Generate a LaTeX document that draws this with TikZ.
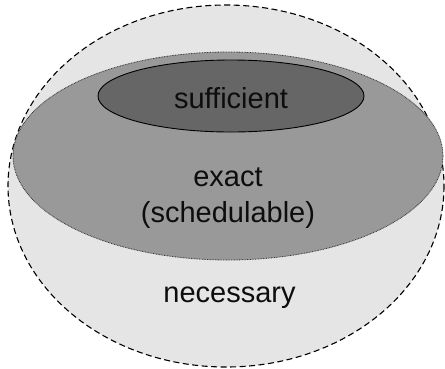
\documentclass[tikz,border=0pt]{standalone}
\usepackage{fontspec}
\setmainfont{Liberation Sans}
\tikzset{
  setlabel/.style={font=\fontsize{29}{36}\selectfont, align=center, text=black!95, anchor=base, inner sep=0pt},
  necessaryset/.style={draw=black, fill=black!10, line width=1.1pt, dash pattern=on 6pt off 3.5pt},
  exactset/.style={draw=black!80, fill=black!40, line width=0.8pt, dash pattern=on 0.8pt off 0.8pt},
  sufficientset/.style={draw=black, fill=black!60, line width=0.9pt}
}
\begin{document}
\begin{tikzpicture}[x=1pt, y=-1pt]
  \useasboundingbox (0,0) rectangle (445,368);
  % nested condition regions
  \draw[necessaryset] (226,186) ellipse [x radius=218, y radius=181];
  \draw[exactset] (228,156) ellipse [x radius=215, y radius=104];
  \draw[sufficientset] (231,96) ellipse [x radius=133, y radius=36];
  % labels (placed on the baseline of their last line)
  \node[setlabel] (suff) at (231,108) {sufficient};
  \node[setlabel] (exact) at (228,222) {exact\\(schedulable)};
  \node[setlabel] (nec) at (229.5,302) {necessary};
\end{tikzpicture}
\end{document}
